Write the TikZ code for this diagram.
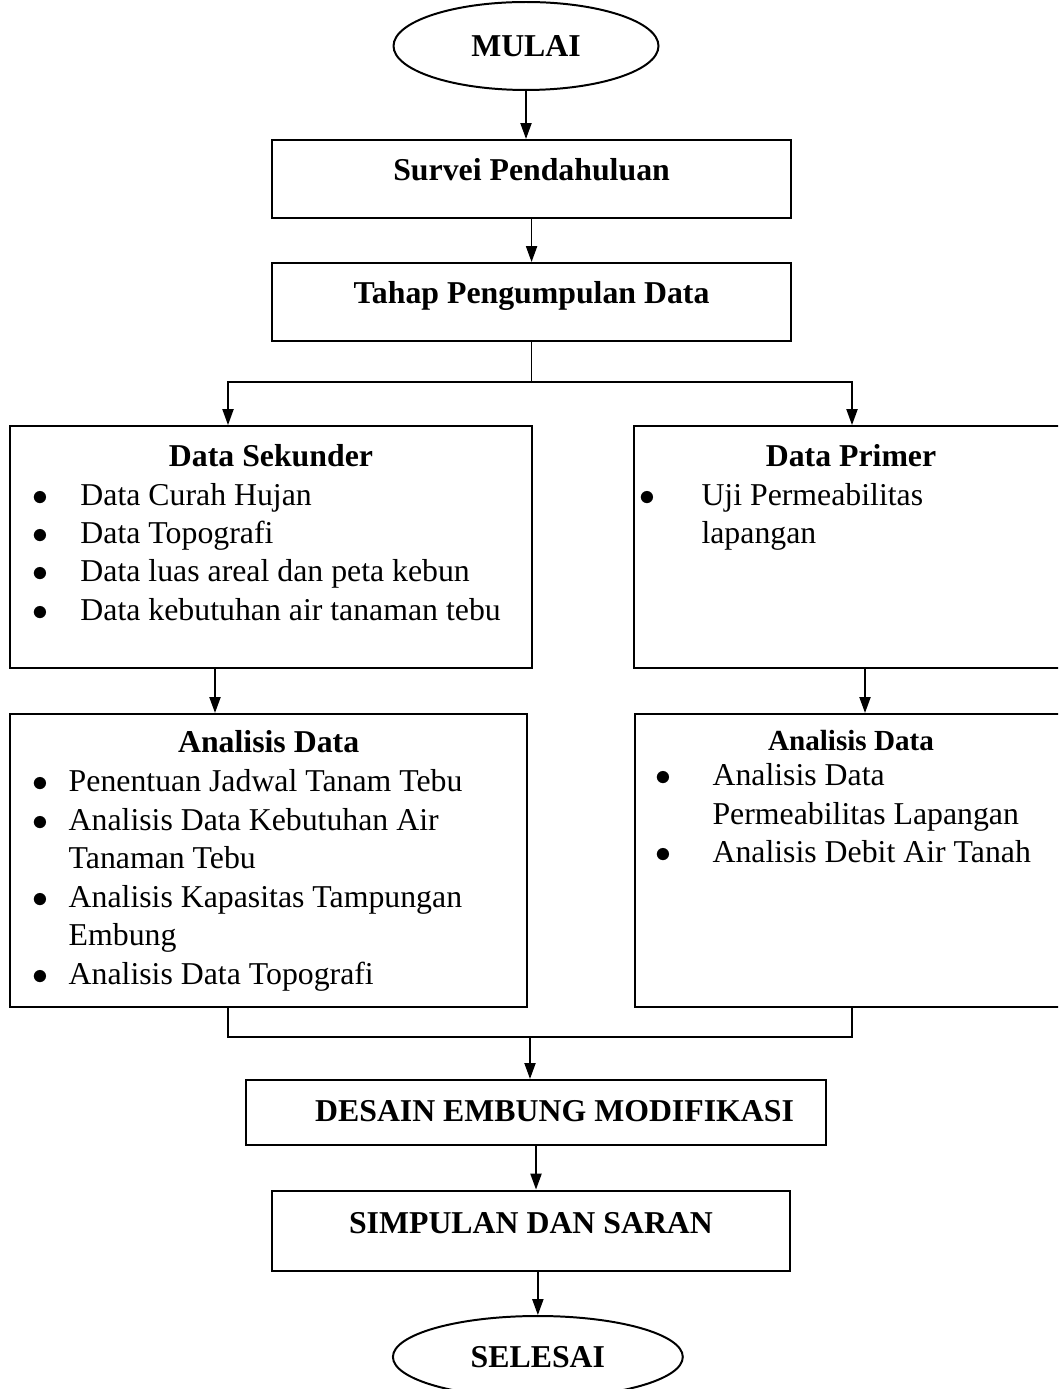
\documentclass[12pt,tikz,border=0pt]{standalone}
\usepackage{fontspec}
\setmainfont{Liberation Serif}
\usepackage{tikz}
\usetikzlibrary{arrows.meta,positioning,shapes.geometric,calc}
\newcommand{\itm}{$\bullet$}

\begin{document}
\begin{tikzpicture}[
    x=0.3774pt, y=-0.3774pt,
    node distance=16.4pt,
    box/.style={draw,line width=0.75pt,inner sep=0pt,font=\bfseries,text height=15.3pt,text depth=14pt,minimum width=195.9pt},
    terminal/.style={draw,ellipse,line width=0.75pt,inner sep=0pt,font=\bfseries},
    listbox/.style={draw,line width=0.75pt,inner sep=0pt},
    head/.style={anchor=base,inner sep=0pt,font=\bfseries},
    items/.style={anchor=base west,inner sep=0pt},
    arr/.style={-{Triangle[length=6pt,width=4.2pt]},line width=0.6pt},
    lin/.style={line width=0.6pt}
  ]
  \useasboundingbox (0,0) rectangle (1058,1389);
  \clip (0,0) rectangle (1058,1389);

  % main column, top
  \node[terminal,minimum width=100pt,minimum height=33.2pt] (mulai) at (526,46) {MULAI};
  \node[box,below=18.1pt of mulai,xshift=2.1pt] (survei) {Survei Pendahuluan};
  \node[box,below=of survei] (tahap) {Tahap Pengumpulan Data};

  % data boxes
  \node[listbox,minimum width=197pt,minimum height=91.3pt] (sekunder) at (271,547) {};
  \node[listbox,minimum width=163.8pt,minimum height=91.3pt] (primer) at (851,547) {};
  \node[listbox,minimum width=195.1pt,minimum height=110.6pt,below=16.6pt of sekunder,xshift=-0.9pt] (analisisL) {};
  \node[listbox,minimum width=163pt,minimum height=110.6pt,below=16.6pt of primer] (analisisR) {};

  \node[head] (sekHead) at ($(sekunder.north)+(0,41)$) {Data Sekunder};
  \node[items] (sekList) at ($(sekunder.north west)+(23,80)$) {\begin{tabular}[t]{@{}p{18.1pt}@{}l@{}}
    \itm & Data Curah Hujan\\
    \itm & Data Topografi\\
    \itm & Data luas areal dan peta kebun\\
    \itm & Data kebutuhan air tanaman tebu
  \end{tabular}};

  \node[head] (priHead) at ($(primer.north)+(0,41)$) {Data Primer};
  \node[items] (priList) at ($(primer.north west)+(6,80)$) {\begin{tabular}[t]{@{}p{23.4pt}@{}l@{}}
    \itm & Uji Permeabilitas\\
         & lapangan
  \end{tabular}};

  \node[head] (anlHead) at ($(analisisL.north)+(0,40)$) {Analisis Data};
  \node[items] (anlList) at ($(analisisL.north west)+(23,79)$) {\begin{tabular}[t]{@{}p{13.6pt}@{}l@{}}
    \itm & Penentuan Jadwal Tanam Tebu\\
    \itm & Analisis Data Kebutuhan Air\\
         & Tanaman Tebu\\
    \itm & Analisis Kapasitas Tampungan\\
         & Embung\\
    \itm & Analisis Data Topografi
  \end{tabular}};

  \node[head,font=\bfseries\fontsize{11}{13.6}\selectfont] (anrHead) at ($(analisisR.north)+(0,38)$) {Analisis Data};
  \node[items] (anrList) at ($(analisisR.north west)+(21,73)$) {\begin{tabular}[t]{@{}p{21.5pt}@{}l@{}}
    \itm & Analisis Data\\
         & Permeabilitas Lapangan\\
    \itm & Analisis Debit Air Tanah
  \end{tabular}};

  % main column, bottom
  \node[box,minimum width=218.9pt,text height=15.7pt,text depth=8.9pt] (desain) at (536,1112.5) {\hspace*{14pt}DESAIN EMBUNG MODIFIKASI};
  \node[box,below=of desain,xshift=-1.9pt,text height=16.2pt,minimum width=195.5pt] (simpulan) {SIMPULAN DAN SARAN};
  \node[terminal,below=of simpulan,xshift=2.6pt,minimum width=109.4pt,minimum height=30.9pt] (selesai) {SELESAI};

  % connectors
  \coordinate (splitL) at (228,382);
  \coordinate (splitR) at (852,382);
  \coordinate (dropL) at (215,690);
  \coordinate (dropR) at (865,690);
  \coordinate (joinL) at (228,1037);
  \coordinate (joinR) at (852,1037);
  \coordinate (joinM) at (530,1037);

  \draw[arr] (mulai.south) -- (mulai.south |- survei.north);
  \draw[arr] (survei) -- (tahap);
  \draw[arr] (tahap.south) |- (splitL) -- (splitL |- sekunder.north);
  \draw[arr] (tahap.south) |- (splitR) -- (splitR |- primer.north);
  \draw[arr] (sekunder.south -| dropL) -- (analisisL.north -| dropL);
  \draw[arr] (primer.south -| dropR) -- (analisisR.north -| dropR);
  \draw[lin] (analisisL.south -| joinL) |- (joinR) -- (analisisR.south -| joinR);
  \draw[arr] (joinM) -- (desain.north -| joinM);
  \draw[arr] (desain.south) -- (desain.south |- simpulan.north);
  \draw[arr] (selesai.north |- simpulan.south) -- (selesai.north);
\end{tikzpicture}
\end{document}
